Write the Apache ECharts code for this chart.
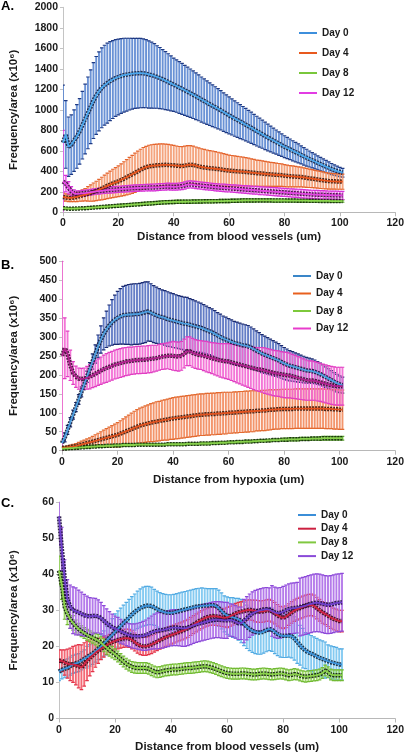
<!DOCTYPE html>
<html><head><meta charset="utf-8">
<script src="https://cdn.jsdelivr.net/npm/echarts@6/dist/echarts.min.js"></script>
<style>html,body{margin:0;padding:0;background:#fff}#c{width:407px;height:754px}</style>
</head><body><div id="c"></div>
<script>
// x positions (um)
const xs = [0,1,2,3,4,5,6,7,8,9,10,11,12,13,14,15,16,17,18,19,20,21,22,23,24,25,26,27,28,29,30,31,32,33,34,35,36,37,38,39,40,41,42,43,44,45,46,47,48,49,50,51,52,53,54,55,56,57,58,59,60,61,62,63,64,65,66,67,68,69,70,71,72,73,74,75,76,77,78,79,80,81,82,83,84,85,86,87,88,89,90,91,92,93,94,95,96,97,98,99,100,101];
const seriesNames = ['Day 0','Day 4','Day 8','Day 12'];
const xTicks = [0,20,40,60,80,100,120];

// ---------- Panel A ----------
const A_day0_mean = [680,760,640,660,700,740,790,850,910,970,
 1030,1090,1140,1180,1215,1240,1260,1280,1295,1310,
 1320,1330,1338,1343,1348,1352,1355,1357,1358,1356,
 1352,1345,1338,1330,1320,1310,1298,1285,1272,1258,
 1245,1232,1218,1204,1190,1176,1162,1147,1132,1117,
 1100,1085,1070,1055,1040,1025,1010,995,978,962,
 946,930,915,900,885,870,855,840,825,808,
 792,777,762,745,730,715,700,685,670,655,
 640,627,614,600,587,575,560,546,533,520,
 508,495,482,470,458,446,434,422,412,402,
 394,386];
const A_day0_err = [560,330,290,290,300,310,320,330,340,350,
 360,370,380,385,390,390,390,385,380,375,
 370,365,360,355,350,345,342,340,338,335,
 332,328,322,315,305,298,290,283,275,268,
 260,256,252,248,244,240,236,232,228,224,
 220,216,212,208,204,200,196,192,188,184,
 180,176,173,169,166,162,159,155,152,148,
 145,141,137,134,130,126,122,118,114,110,
 107,104,101,98,95,92,88,85,82,78,
 75,72,69,66,63,60,57,54,51,48,
 45,42];
const A_day4_mean = [150,145,140,140,145,150,158,165,172,180,
 188,198,208,220,232,245,258,270,282,292,
 302,315,328,342,356,370,385,400,415,430,
 440,448,452,455,458,460,462,463,462,460,
 458,455,452,450,455,462,465,462,455,448,
 442,438,434,430,428,425,422,418,414,410,
 406,404,402,400,398,396,394,391,388,385,
 382,380,378,375,372,370,368,366,364,362,
 358,355,352,350,348,346,344,340,336,332,
 328,324,320,316,312,308,305,303,302,300,
 300,299];
const A_day4_err = [40,35,35,35,40,45,50,55,60,70,
 80,88,95,102,110,118,125,132,138,144,
 150,158,165,172,180,186,192,196,200,202,
 204,206,207,208,208,207,205,203,200,197,
 194,192,190,190,190,188,186,184,182,180,
 178,176,174,172,170,167,164,161,158,155,
 152,150,148,146,144,142,140,137,134,131,
 128,126,124,122,120,118,116,114,112,110,
 108,106,104,102,100,98,96,94,92,90,
 88,86,85,84,82,80,78,77,76,75,
 75,74];
const A_day8_mean = [40,38,35,35,36,37,38,39,40,42,
 44,46,48,50,52,54,56,58,60,62,
 64,66,68,70,72,74,76,78,80,82,
 84,86,88,90,92,94,96,98,99,100,
 101,102,102,103,103,104,104,105,105,106,
 106,107,107,108,108,109,109,110,110,111,
 111,112,112,113,114,115,116,116,116,116,
 116,116,116,116,116,116,115,115,115,115,
 115,114,114,114,114,113,113,113,113,112,
 112,112,112,111,111,111,111,110,110,110,
 110,110];
const A_day8_err = [10,10,10,10,10,10,10,10,10,10,
 11,11,11,11,12,12,12,12,12,12,
 13,13,13,13,13,14,14,14,14,14,
 15,15,15,15,15,15,15,15,15,15,
 16,16,16,16,16,16,16,16,16,16,
 16,16,16,16,16,16,16,16,16,16,
 16,16,16,16,16,16,16,16,16,16,
 15,15,15,15,15,15,15,15,15,15,
 14,14,14,14,14,14,14,14,14,14,
 13,13,13,13,13,13,13,13,13,13,
 12,12];
const A_day12_mean = [300,280,240,205,185,180,182,185,188,192,
 196,200,204,207,210,213,216,218,220,222,
 224,226,228,230,232,234,236,237,238,239,
 240,241,242,243,244,246,248,250,251,250,
 249,250,252,256,262,270,272,270,266,263,
 260,257,254,251,248,245,242,240,238,236,
 234,232,230,228,226,224,222,220,218,216,
 214,212,210,208,206,204,202,200,198,196,
 194,192,190,188,186,184,182,180,178,176,
 174,173,172,171,170,169,168,167,166,166,
 165,165];
const A_day12_err = [500,80,60,45,35,30,28,28,28,28,
 28,28,28,29,29,29,30,30,30,30,
 30,30,31,31,31,32,32,32,32,32,
 32,32,33,33,33,33,33,33,33,33,
 33,33,34,34,35,35,35,35,35,35,
 35,35,35,35,35,35,35,36,36,36,
 36,36,37,37,37,37,38,38,38,38,
 38,39,39,39,39,40,40,40,40,40,
 40,40,40,41,41,41,41,41,41,41,
 41,41,41,41,41,41,40,40,40,40,
 40,40];
const A_yTicks = [0,200,400,600,800,1000,1200,1400,1600,1800,2000];

// ---------- Panel B ----------
const B_day0_mean = [20,35,55,75,95,115,135,155,175,195,
 215,235,255,275,293,308,320,330,338,345,
 350,354,357,358,359,359,360,360,361,363,
 365,367,364,360,357,354,352,350,347,345,
 343,341,339,337,335,334,332,330,328,326,
 324,321,318,315,312,308,304,300,296,293,
 290,287,284,282,280,278,277,275,272,268,
 264,260,256,253,250,247,244,241,238,234,
 230,227,224,222,220,218,216,214,212,211,
 210,208,205,202,198,194,190,186,182,178,
 175,173];
const B_day0_err = [12,12,12,12,12,12,13,13,14,15,
 17,20,24,30,36,42,48,54,60,65,
 70,73,76,78,79,80,80,80,80,80,
 80,78,76,75,74,73,72,72,72,71,
 71,70,70,70,70,70,69,68,67,66,
 65,64,63,62,62,61,60,60,59,59,
 58,58,57,57,56,56,55,55,54,53,
 52,51,50,49,48,47,46,45,44,43,
 42,41,40,39,38,37,36,35,34,33,
 32,31,30,29,28,27,26,25,24,23,
 22,21];
const B_day4_mean = [8,8,9,10,11,12,14,16,18,20,
 22,24,26,28,30,32,34,36,38,40,
 42,45,48,51,54,57,60,63,66,68,
 70,72,74,75,77,78,80,81,82,84,
 85,86,87,88,89,90,91,92,93,94,
 95,95,96,96,97,97,98,98,99,99,
 100,100,101,101,102,102,103,103,104,104,
 105,105,106,106,107,108,108,109,109,110,
 110,110,110,110,111,111,111,111,111,111,
 111,111,111,111,111,110,110,110,109,109,
 108,108];
const B_day4_err = [3,3,4,5,6,7,8,9,10,11,
 12,14,16,18,20,22,24,26,28,30,
 32,34,36,38,40,42,44,45,46,47,
 48,49,50,51,52,52,53,53,54,54,
 55,55,55,55,55,55,55,55,55,55,
 55,55,55,55,55,55,55,55,55,55,
 54,54,54,54,54,54,54,54,54,54,
 53,53,53,53,53,53,52,52,52,52,
 52,52,52,52,52,52,52,52,52,52,
 52,52,52,52,52,52,52,52,52,52,
 52,52];
const B_day8_mean = [5,6,6,7,7,8,8,9,9,10,
 10,11,11,12,12,12,13,13,13,14,
 14,14,15,15,15,15,15,16,16,16,
 16,16,16,16,16,16,16,16,17,17,
 17,17,17,17,17,18,18,18,18,18,
 19,19,19,19,20,20,20,21,21,21,
 22,22,22,23,23,23,24,24,24,25,
 25,26,26,26,27,27,28,28,28,29,
 29,29,30,30,30,30,31,31,31,31,
 32,32,32,32,33,33,33,33,33,33,
 33,33];
const B_day8_err = [3,3,3,3,3,3,3,3,3,3,
 3,3,3,3,3,3,3,3,3,3,
 3,3,3,3,3,3,3,3,3,3,
 3,3,3,3,3,3,3,3,3,3,
 3,3,3,3,3,3,3,3,3,3,
 3,3,3,3,3,3,3,3,3,3,
 3,3,3,3,3,3,3,3,3,3,
 3,3,3,3,3,3,3,3,3,3,
 4,4,4,4,4,4,4,4,4,4,
 4,4,4,5,5,5,5,5,5,5,
 5,5];
const B_day12_mean = [250,270,255,225,205,195,190,189,190,192,
 195,199,203,207,211,215,218,221,224,227,
 229,231,233,235,236,237,238,239,239,240,
 240,241,242,243,244,246,248,249,250,250,
 250,249,248,250,256,262,262,258,255,253,
 252,250,248,246,244,242,240,238,237,236,
 235,233,231,229,227,225,223,221,219,217,
 215,214,213,211,209,207,205,204,203,201,
 200,199,198,196,194,192,190,188,186,185,
 185,184,182,180,178,176,174,172,171,170,
 170,170];
const B_day12_err = [250,80,60,40,30,28,28,28,28,30,
 32,33,34,35,36,37,38,38,38,38,
 38,38,38,37,37,36,36,36,36,36,
 36,36,36,35,34,34,34,34,34,36,
 38,38,38,38,38,38,38,38,38,38,
 38,39,40,40,41,42,43,44,45,46,
 47,48,49,50,51,52,53,54,55,56,
 57,58,59,60,60,60,60,60,60,60,
 60,60,59,58,57,56,55,54,53,52,
 52,51,51,50,50,50,50,50,50,50,
 50,50];
const B_yTicks = [0,50,100,150,200,250,300,350,400,450,500];

// ---------- Panel C ----------
const C_day0_mean = [13,13.5,13.8,14,14.5,15,15.3,15.5,16,16.5,
 17,17.5,18,18.6,19.3,20,20.8,21.6,22.4,23.2,
 24,24.8,25.6,26.4,27.2,28,28.8,29.5,30.1,30.6,
 31,31.2,31.3,31.2,30.8,30.3,29.9,29.6,29.4,29.3,
 29.3,29.4,29.6,29.8,30,30.2,30.4,30.6,30.8,31,
 31.1,31.2,31.3,31.3,31.4,31.4,31.2,30.6,29.8,29,
 28.5,28.2,28,27.8,27.5,27,26.2,25.4,24.8,24.3,
 24,23.8,23.8,24.1,24.5,24.8,24.6,24,23.4,23,
 22.9,22.9,23,22.8,22.2,21.3,20.3,19.5,18.8,18.3,
 18,17.6,17.2,16.8,16.5,16.2,15.9,15.6,15.4,15.2,
 15,15];
const C_day0_err = [2.5,2.5,2.5,2.5,2.5,2.5,2.5,2.5,2.5,2.5,
 3,3,3,3,3,3.5,3.5,4,4,4.5,
 5,5,5,5,5,5,5,5,5.2,5.3,
 5.4,5.4,5.3,5.2,5,5,5,5,5,5,
 5,5,5,5,5,5,5,5,5,5,
 5,5,4.8,4.7,4.6,4.6,4.8,5,5,5,
 5.2,5.3,5.5,5.5,5.8,6,6,6,6,6,
 6,6,6,6,6,6,6,6,6,6,
 6,6,6,6,6,6,5.5,5.5,5,5,
 5,5,5,5,5,5,4.5,4.5,4.5,4.5,
 4.3,4.3];
const C_day4_mean = [16,16,15.5,15.2,15,15,14.8,14.5,14.2,15,
 16,16.8,17.5,18.2,18.8,19.3,19.8,20.3,20.8,21.2,
 21.5,21.8,22,22.2,22.3,22.2,21.8,21.2,20.6,20.2,
 20,20,20.2,20.5,20.9,21.3,21.7,22.1,22.5,22.8,
 23.1,23.4,23.7,24,24.3,24.6,25,25.5,26,26.5,
 27,27.4,27.8,28.1,28.3,28.4,28.3,28.2,28,27.9,
 28,28.3,28.7,29.1,29.4,29.6,29.8,30,30.1,30,
 29.8,29.7,29.6,29.7,29.9,30,29.7,29.2,28.6,28.1,
 27.9,28.2,28.8,29.4,29.9,30.3,30.6,30.9,31.2,31.4,
 31.5,31.2,30.6,30,29.4,29,28.5,28,27.6,27.3,
 27,27];
const C_day4_err = [3,3,3.5,4,4.5,5,5.5,6,6.2,6,
 5.5,5,4.5,4,3.5,3,2.8,2.6,2.5,2.5,
 2.5,2.5,2.5,2.5,2.5,2.5,2.5,2.5,2.5,2.5,
 2.5,2.5,2.5,2.5,2.5,2.5,2.5,2.5,2.5,2.5,
 2.5,2.5,2.5,2.5,2.5,2.5,2.5,2.5,2.5,2.5,
 2.5,2.5,2.5,2.5,2.5,2.5,2.5,2.5,2.5,2.5,
 2.8,2.8,2.8,2.8,2.8,2.8,2.8,2.8,2.8,2.8,
 3,3,3,3,3,3,3,3,3,3,
 3,3,3,3,3,3,3,3,3,3,
 3,3,3,3,3,3,3,3,3,3,
 3,3];
const C_day8_mean = [41,37,31,29,27.5,26.5,25.5,24.8,24.2,23.7,
 23.2,22.8,22.4,22,21.6,21,20.3,19.6,19,18.4,
 17.8,17.2,16.5,15.8,15.2,14.7,14.3,14.1,14,14,
 14,14,13.8,13.4,13,12.8,12.9,13.1,13.3,13.4,
 13.5,13.6,13.6,13.7,13.8,13.9,14,14,14.1,14.2,
 14.3,14.4,14.5,14.4,14.2,14,13.7,13.4,13.1,12.8,
 12.6,12.5,12.4,12.4,12.4,12.5,12.5,12.4,12.3,12.2,
 12.2,12.3,12.4,12.5,12.4,12.3,12.2,12.3,12.4,12.5,
 12.4,12.2,12,12.1,12.3,12.2,11.9,11.7,11.6,11.7,
 11.8,11.9,12,12.2,12.6,13.3,12.8,12.2,12,12,
 12,12];
const C_day8_err = [4,4,3.5,3,2.5,2,1.8,1.6,1.5,1.5,
 1.5,1.5,1.5,1.6,1.7,1.8,1.8,1.8,1.7,1.6,
 1.5,1.5,1.5,1.5,1.5,1.5,1.5,1.5,1.5,1.5,
 1.5,1.5,1.5,1.5,1.5,1.5,1.5,1.5,1.5,1.5,
 1.5,1.5,1.5,1.5,1.5,1.5,1.5,1.5,1.5,1.5,
 1.5,1.5,1.5,1.5,1.5,1.5,1.5,1.5,1.5,1.5,
 1.5,1.5,1.5,1.5,1.5,1.5,1.5,1.5,1.5,1.5,
 1.5,1.5,1.5,1.5,1.5,1.5,1.5,1.5,1.5,1.5,
 1.5,1.5,1.5,1.5,1.5,1.5,1.5,1.5,1.5,1.5,
 1.5,1.5,1.5,1.5,1.5,1.5,1.5,1.5,1.5,1.5,
 1.5,1.5];
const C_day12_mean = [56,47,39,33,31,30,29.7,29.4,29,28.6,
 28.4,28.3,28.4,28.5,28.3,27.8,27.1,26.4,25.8,25.3,
 24.9,24.6,24.2,23.8,23.4,23.1,22.9,22.8,22.8,22.8,
 22.9,23.1,23.4,23.8,24.1,24.3,24.4,24.5,24.7,24.9,
 25.1,25.2,25.2,25.1,25,25,25.2,25.5,25.8,26.1,
 26.3,26.5,26.7,26.9,27.1,27.3,27.4,27.4,27.3,27.2,
 27.2,27.3,27.2,26.8,26.4,26.4,27,27.8,28.5,29.1,
 29.5,29.8,30,30.2,30.3,30.2,29.8,29.4,29.2,29.3,
 29.6,30,30.3,30.5,30.6,30.7,30.9,31.1,31.3,31.6,
 31.8,32,32.1,32,31.8,31.6,31.5,31.6,31.8,32,
 32.1,32.2];
const C_day12_err = [8,6,5,5.5,6,6.5,6.5,6.2,6,5.8,
 5.5,5.2,5,4.8,4.6,4.4,4.2,4,3.8,3.6,
 3.5,3.4,3.3,3.2,3.2,3.2,3.3,3.4,3.6,3.8,
 4,4.2,4.4,4.6,4.8,5,5,5,5,5,
 5,5,5,5,5,5,5,5,5,5,
 5,5,5,5,5,5,5,5,5,5,
 5,4.5,4.5,4.5,4.5,4.5,6,6,6,6,
 6,6,6,6,6,6,7,7,7,7,
 7,7,7,7,7,7,8,8,8,8,
 8,8,8,8,8,8,8,8,8,8,
 8,8];
const C_yTicks = [0,10,20,30,40,50,60];

// ---------- layout / styles ----------
const FONT = "'Liberation Sans', Arial, sans-serif";
const TXT = '#1a1a1a';

const panels = [
  { key:'A', grid:{left:55, top:7.3, width:342, height:205}, yTicks:A_yTicks,
    xTitle:'Distance from blood vessels (um)', nameGapY:43, nameGapX:19, labelMarginX:5,
    leg:{left:299, top:26, gap:6, lh:14},
    s:[
      {mean:A_day0_mean, err:A_day0_err, bar:'#5a86d0', cap:'#1f3a84', line:'#4aa6ec', dark:'#14213f', leg:'#3d8fdc'},
      {mean:A_day4_mean, err:A_day4_err, bar:'#f39a70', cap:'#e4652e', line:'#e8541c', dark:'#3a160a', leg:'#e8591e'},
      {mean:A_day8_mean, err:A_day8_err, bar:'#78c444', cap:'#5aa22e', line:'#8ad54e', dark:'#142a0c', leg:'#79c73b'},
      {mean:A_day12_mean, err:A_day12_err, bar:'#ec62ec', cap:'#d634d6', line:'#e445e4', dark:'#3e0c3a', leg:'#e23ce3'}
    ]},
  { key:'B', grid:{left:55, top:261, width:343, height:189.7}, yTicks:B_yTicks,
    xTitle:'Distance from hypoxia (um)', nameGapY:42, nameGapX:23, labelMarginX:6,
    leg:{left:293, top:269, gap:3.5, lh:14},
    s:[
      {mean:B_day0_mean, err:B_day0_err, bar:'#5470c0', cap:'#1a2a70', line:'#4c9fe0', dark:'#101c3c', leg:'#3a86c8'},
      {mean:B_day4_mean, err:B_day4_err, bar:'#f28a5c', cap:'#e26a30', line:'#e2521e', dark:'#3a160a', leg:'#e8601e'},
      {mean:B_day8_mean, err:B_day8_err, bar:'#72c242', cap:'#5aa02e', line:'#86d04a', dark:'#142a0c', leg:'#7dc93b'},
      {mean:B_day12_mean, err:B_day12_err, bar:'#f266d2', cap:'#e03ec2', line:'#b0208e', dark:'#3a0c30', leg:'#e83ccc'}
    ]},
  { key:'C', grid:{left:52, top:502, width:344, height:217.3}, yTicks:C_yTicks,
    xTitle:'Distance from blood vessels (um)', nameGapY:39, nameGapX:22.5, labelMarginX:6,
    leg:{left:298, top:508.5, gap:0.7, lh:13},
    s:[
      {mean:C_day0_mean, err:C_day0_err, bar:'#78c4f0', cap:'#52aae2', line:'#3a92da', dark:'#0e2438', leg:'#3b8ed8'},
      {mean:C_day4_mean, err:C_day4_err, bar:'#f25866', cap:'#e2344a', line:'#d02242', dark:'#3c0a16', leg:'#cc2040'},
      {mean:C_day8_mean, err:C_day8_err, bar:'#94d456', cap:'#72ba34', line:'#8ad24a', dark:'#0e200a', leg:'#80c840'},
      {mean:C_day12_mean, err:C_day12_err, bar:'#ac6ce8', cap:'#8c4ad8', line:'#6e40cc', dark:'#1c0a3c', leg:'#8a4ad8'}
    ]}
];

const grids = [], xAxes = [], yAxes = [], series = [], legends = [];
panels.forEach((p, gi) => {
  grids.push(Object.assign({containLabel:false}, p.grid));
  const yMin = p.yTicks[0], yMax = p.yTicks[p.yTicks.length-1];
  xAxes.push({
    type:'value', gridIndex:gi, min:xTicks[0], max:xTicks[xTicks.length-1], interval:xTicks[1]-xTicks[0],
    axisLine:{show:true, onZero:false, lineStyle:{color:'#b8b8b8', width:1}},
    axisTick:{show:true, length:4, lineStyle:{color:'#b8b8b8'}},
    splitLine:{show:false},
    axisLabel:{color:TXT, fontSize:10.5, fontWeight:'bold', fontFamily:FONT, margin:p.labelMarginX, formatter:v=>String(v)},
    name:p.xTitle, nameLocation:'middle', nameGap:p.nameGapX,
    nameTextStyle:{color:TXT, fontSize:11.5, fontWeight:'bold', fontFamily:FONT}
  });
  yAxes.push({
    type:'value', gridIndex:gi, min:yMin, max:yMax, interval:p.yTicks[1]-p.yTicks[0],
    axisLine:{show:true, onZero:false, lineStyle:{color:'#c4c4c4', width:1}},
    axisTick:{show:true, length:3, lineStyle:{color:'#c4c4c4'}},
    splitLine:{show:false},
    axisLabel:{color:TXT, fontSize:10.5, fontWeight:'bold', fontFamily:FONT, margin:5, formatter:v=>String(v)},
    name:'Frequency/area (x10\u2076)', nameLocation:'middle', nameGap:p.nameGapY, nameRotate:90,
    nameTextStyle:{color:TXT, fontSize:11.5, fontWeight:'bold', fontFamily:FONT}
  });
  // error bars
  p.s.forEach((s, si) => {
    const data = s.mean.map((v, i) => [xs[i], v, s.err[i]]);
    series.push({
      type:'custom', name:p.key+'err'+si, xAxisIndex:gi, yAxisIndex:gi, z:2, clip:true,
      silent:true, animation:false,
      renderItem:(params, api) => {
        const x = api.value(0), m = api.value(1), e = api.value(2);
        const top = api.coord([x, m + e]);
        const bot = api.coord([x, m - e]);
        const c = 1.8;
        return {type:'group', children:[
          {type:'line', shape:{x1:top[0], y1:top[1], x2:bot[0], y2:bot[1]}, style:{stroke:s.bar, lineWidth:1.9, opacity:0.9}},
          {type:'line', shape:{x1:top[0]-c, y1:top[1], x2:top[0]+c, y2:top[1]}, style:{stroke:s.cap, lineWidth:1.2}},
          {type:'line', shape:{x1:bot[0]-c, y1:bot[1], x2:bot[0]+c, y2:bot[1]}, style:{stroke:s.cap, lineWidth:1.2}}
        ]};
      },
      data:data, encode:{x:0, y:1}
    });
  });
  // dark outline lines
  p.s.forEach((s, si) => {
    series.push({
      type:'line', name:p.key+'dark'+si, xAxisIndex:gi, yAxisIndex:gi, z:3, silent:true,
      symbol:'none', animation:false,
      lineStyle:{color:s.dark, width:4.5, type:[2,1], opacity:0.9},
      data:s.mean.map((v,i)=>[xs[i], v])
    });
  });
  // colored mean lines
  p.s.forEach((s, si) => {
    series.push({
      type:'line', name:p.key+' '+seriesNames[si], xAxisIndex:gi, yAxisIndex:gi, z:4, silent:true,
      symbol:'none', animation:false, color:s.leg,
      itemStyle:{color:s.leg},
      lineStyle:{color:s.line, width:1.8},
      data:s.mean.map((v,i)=>[xs[i], v])
    });
  });
  legends.push({
    orient:'vertical', left:p.leg.left, top:p.leg.top, padding:0,
    itemWidth:18, itemHeight:2, itemGap:p.leg.gap, icon:'rect', selectedMode:false,
    data:seriesNames.map(n => p.key+' '+n),
    formatter: n => n.slice(2),
    textStyle:{color:TXT, fontSize:10, fontWeight:'bold', fontFamily:FONT, lineHeight:p.leg.lh}
  });
});

const chart = echarts.init(document.getElementById('c'), null, {renderer:'canvas'});
chart.setOption({
  animation:false,
  backgroundColor:'#ffffff',
  grid:grids, xAxis:xAxes, yAxis:yAxes, legend:legends, series:series,
  graphic:[
    {type:'text', left:1, top:0, style:{text:'A.', fill:'#000', font:"bold 13px 'Liberation Sans', Arial"}},
    {type:'text', left:1, top:259, style:{text:'B.', fill:'#000', font:"bold 13px 'Liberation Sans', Arial"}},
    {type:'text', left:1, top:497, style:{text:'C.', fill:'#000', font:"bold 13px 'Liberation Sans', Arial"}}
  ]
});
</script>
</body></html>
